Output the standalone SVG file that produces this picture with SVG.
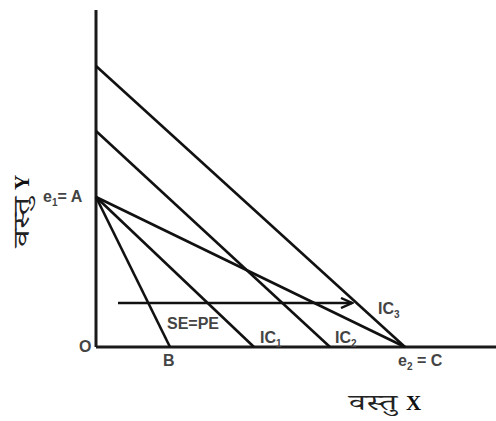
<svg xmlns="http://www.w3.org/2000/svg" width="496" height="421" viewBox="0 0 496 421">
<defs>
<style>
.ln{stroke:#111;stroke-width:2.6;fill:none;stroke-linecap:butt}
.ax{stroke:#1a1a1a;stroke-width:3;fill:none}
.lb{font-family:"Liberation Sans",Arial,sans-serif;font-weight:bold;font-size:16px;fill:#444}
.sub{font-size:10px}
.hi{font-family:"Noto Serif Devanagari","Noto Sans Devanagari","Noto Serif","Liberation Serif",serif;font-size:22px;font-weight:normal;fill:#222}
.bx{font-family:"Liberation Serif","Times New Roman",serif;font-weight:bold;font-size:21px;fill:#111}
</style>
<marker id="ah" markerWidth="14" markerHeight="12" refX="12" refY="6" orient="auto" markerUnits="userSpaceOnUse">
<path d="M1,1 L12,6 L1,11" fill="none" stroke="#111" stroke-width="2.4"/>
</marker>
</defs>
<rect width="496" height="421" fill="#fff"/>
<g id="axes">
<line class="ax" x1="96" y1="10" x2="96" y2="347"/>
<line class="ax" x1="96" y1="347" x2="496" y2="347"/>
</g>
<g id="connectors">
<line class="ln" x1="96" y1="66" x2="405" y2="347"/>
<line class="ln" x1="96" y1="131" x2="330" y2="347"/>
<line class="ln" x1="96" y1="197" x2="170" y2="347"/>
<line class="ln" x1="96" y1="197" x2="254" y2="347"/>
<line class="ln" x1="96" y1="197" x2="405" y2="347"/>
<line class="ln" x1="118" y1="303" x2="352" y2="303" marker-end="url(#ah)"/>
</g>
<g id="labels">
<text class="lb" x="79" y="352">O</text>
<text class="lb" x="163" y="366">B</text>
<text class="lb" x="167" y="329">SE=PE</text>
<text class="lb" x="260" y="343">IC<tspan class="sub" dy="4">1</tspan></text>
<text class="lb" x="335" y="343">IC<tspan class="sub" dy="4">2</tspan></text>
<text class="lb" x="378" y="314">IC<tspan class="sub" dy="4">3</tspan></text>
<text class="lb" x="398" y="366">e<tspan class="sub" dy="4">2</tspan><tspan dy="-4"> = C</tspan></text>
<text class="lb" x="43" y="202">e<tspan class="sub" dy="4">1</tspan><tspan dy="-4">= A</tspan></text>
<text class="hi" x="349" y="410" textLength="48" lengthAdjust="spacingAndGlyphs">वस्तु</text>
<text class="bx" x="406" y="410">X</text>
<g transform="translate(29,247) rotate(-90)">
<text class="hi" x="0" y="0" textLength="50" lengthAdjust="spacingAndGlyphs">वस्तु</text>
<text class="bx" x="57" y="0">Y</text>
</g>
</g>
</svg>
